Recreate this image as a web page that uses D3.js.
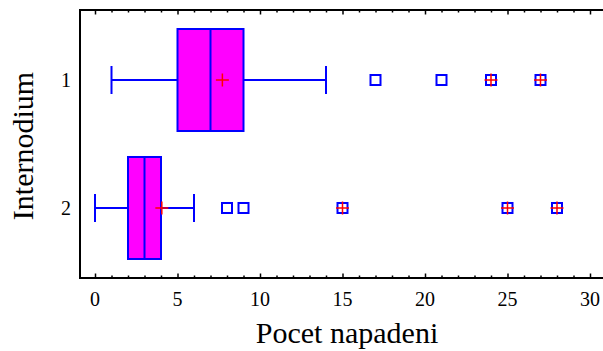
<!DOCTYPE html>
<html>
<head>
<meta charset="utf-8">
<script src="https://cdn.jsdelivr.net/npm/d3@7"></script>
<style>
  body { margin: 0; background: #fff; }
  svg { display: block; font-family: "Liberation Serif", "Times New Roman", serif; }
</style>
</head>
<body>
<div id="chart"></div>
<script>
// groups (Internodium) and their box-plot summaries
const groups = ["1", "2"];
const q1 = [5, 2];
const median = [7, 3];
const q3 = [9, 4];
const whiskLow = [1, 0];
const whiskHigh = [14, 6];
const means = [7.72, 4.05];
// outside points and far outside points (drawn with a red plus)
const outliers = [[17, 21], [8, 9]];
const farOutliers = [[24, 27], [15, 25, 28]];
const xTicks = [0, 5, 10, 15, 20, 25, 30];

const w = 603, h = 351;
const plotLeft = 80, plotRight = 603, plotTop = 10, plotBottom = 278;

const svg = d3.select("#chart").append("svg")
  .attr("width", w)
  .attr("height", h);

let xScale = d3.scaleLinear().domain([0, 30]).range([95, 590]);
let yScale = d3.scalePoint().domain(groups).range([plotTop, plotBottom]).padding(0.547);
const boxH = 102;
const capH = 28;

// frame: left, top and bottom lines (no right line)
svg.append("path")
  .attr("d", `M${plotRight},${plotTop}H${plotLeft}V${plotBottom}H${plotRight}`)
  .attr("fill", "none")
  .attr("stroke", "#000")
  .attr("stroke-width", 2);

// minor + major ticks, bottom and top, pointing inward
const minorVals = d3.range(0, 31);
function ticks(axisFn, y, size, vals) {
  const g = svg.append("g")
    .attr("transform", "translate(0," + y + ")")
    .call(axisFn(xScale).tickValues(vals).tickSizeInner(size).tickSizeOuter(0).tickFormat(""));
  g.select(".domain").remove();
  g.selectAll("line").attr("stroke", "#000").attr("stroke-width", 1.5);
  return g;
}
ticks(d3.axisBottom, plotBottom, -2.5, minorVals.filter(v => v % 5 !== 0));
ticks(d3.axisBottom, plotBottom, -4.5, xTicks);
ticks(d3.axisTop, plotTop, -2.5, minorVals.filter(v => v % 5 !== 0));
ticks(d3.axisTop, plotTop, -4.5, xTicks);

// x tick labels
svg.append("g").selectAll("text")
  .data(xTicks)
  .join("text")
  .attr("x", d => xScale(d))
  .attr("y", 306)
  .attr("text-anchor", "middle")
  .attr("font-size", 20)
  .text(d => d);

// y tick labels
svg.append("g").selectAll("text")
  .data(groups)
  .join("text")
  .attr("x", 66)
  .attr("y", d => yScale(d) + 7)
  .attr("text-anchor", "middle")
  .attr("font-size", 20)
  .text(d => d);

// axis titles
svg.append("text")
  .attr("x", 347)
  .attr("y", 343)
  .attr("text-anchor", "middle")
  .attr("font-size", 30)
  .text("Pocet napadeni");

svg.append("text")
  .attr("transform", "translate(33,146) rotate(-90)")
  .attr("text-anchor", "middle")
  .attr("font-size", 30)
  .text("Internodium");

const blue = "#0000ff", red = "#ff0000";

groups.forEach((g, i) => {
  const cy = yScale(g);
  const grp = svg.append("g");
  // whiskers
  grp.append("line")
    .attr("x1", xScale(whiskLow[i])).attr("x2", xScale(q1[i]))
    .attr("y1", cy).attr("y2", cy)
    .attr("stroke", blue).attr("stroke-width", 2);
  grp.append("line")
    .attr("x1", xScale(q3[i])).attr("x2", xScale(whiskHigh[i]))
    .attr("y1", cy).attr("y2", cy)
    .attr("stroke", blue).attr("stroke-width", 2);
  [whiskLow[i], whiskHigh[i]].forEach(v => {
    grp.append("line")
      .attr("x1", xScale(v)).attr("x2", xScale(v))
      .attr("y1", cy - capH / 2).attr("y2", cy + capH / 2)
      .attr("stroke", blue).attr("stroke-width", 2);
  });
  // box
  grp.append("rect")
    .attr("x", xScale(q1[i]))
    .attr("y", cy - boxH / 2)
    .attr("width", xScale(q3[i]) - xScale(q1[i]))
    .attr("height", boxH)
    .attr("fill", "#ff00ff")
    .attr("stroke", blue)
    .attr("stroke-width", 2);
  grp.append("line")
    .attr("x1", xScale(median[i])).attr("x2", xScale(median[i]))
    .attr("y1", cy - boxH / 2).attr("y2", cy + boxH / 2)
    .attr("stroke", blue).attr("stroke-width", 2);

  // outside points (squares)
  const sq = 10;
  grp.selectAll(".out")
    .data(outliers[i].concat(farOutliers[i]))
    .join("rect")
    .attr("class", "out")
    .attr("x", d => xScale(d) - sq / 2)
    .attr("y", cy - sq / 2)
    .attr("width", sq)
    .attr("height", sq)
    .attr("fill", "none")
    .attr("stroke", blue)
    .attr("stroke-width", 2);

  // red plus for mean and far outside points
  const plus = 13;
  [means[i]].concat(farOutliers[i]).forEach(v => {
    grp.append("path")
      .attr("d", `M${xScale(v) - plus / 2},${cy}h${plus}M${xScale(v)},${cy - plus / 2}v${plus}`)
      .attr("stroke", red)
      .attr("stroke-width", 1.5)
      .attr("fill", "none");
  });
});
</script>
</body>
</html>
